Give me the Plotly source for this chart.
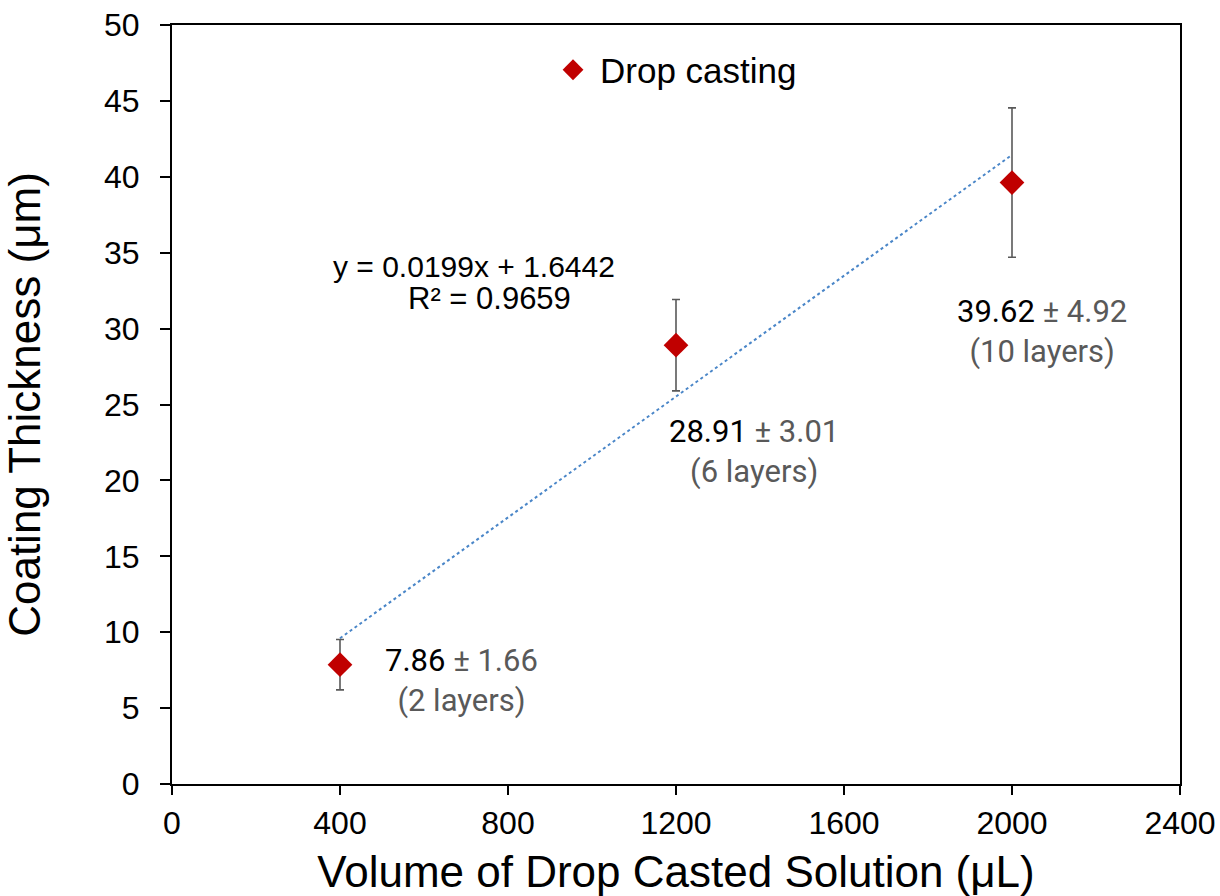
import plotly.graph_objects as go

# Data
volume_ul = [400, 1200, 2000]
thickness_um = [7.86, 28.91, 39.62]
thickness_err = [1.66, 3.01, 4.92]
layers = ["2 layers", "6 layers", "10 layers"]
series_name = "Drop casting"

# Linear trendline (Excel fit shown on chart)
slope = 0.0199
intercept = 1.6442
r_squared = 0.9659
trend_x = [volume_ul[0], volume_ul[-1]]
trend_y = [slope * v + intercept for v in trend_x]

x_ticks = [0, 400, 800, 1200, 1600, 2000, 2400]
y_ticks = [0, 5, 10, 15, 20, 25, 30, 35, 40, 45, 50]

ARIAL = "Arial, Liberation Sans, sans-serif"
ROBOTO = "Roboto, sans-serif"
GREY = "#595959"

fig = go.Figure()

fig.add_trace(go.Scatter(
    x=trend_x, y=trend_y, mode="lines",
    line=dict(color="#4A86C8", width=2, dash="dot"),
    showlegend=False, hoverinfo="skip",
))

fig.add_trace(go.Scatter(
    x=volume_ul, y=thickness_um, mode="markers", name="\u2009" + series_name,
    marker=dict(symbol="diamond", size=19, color="#C00000"),
    error_y=dict(type="data", array=thickness_err, visible=True,
                 color=GREY, thickness=1.6, width=4),
))

# Labels for each point
label_pos = [(690, 6.8), (1386, 21.9), (2071, 29.8)]
for (lx, ly), m, e, lay in zip(label_pos, thickness_um, thickness_err, layers):
    fig.add_annotation(
        x=lx, y=ly, xref="x", yref="y", showarrow=False,
        text=(f"<span style='color:#000000'>{m:.2f}</span> "
              f"<span style='color:{GREY}'>± {e:.2f}</span><br>"
              f"<span style='color:{GREY}'>({lay})</span>"),
        font=dict(family=ROBOTO, size=31, color=GREY),
        align="center",
    )

# Trendline equation
fig.add_annotation(x=720, y=34.1, xref="x", yref="y", showarrow=False,
                   text=f"y = {slope:.4f}x + {intercept:.4f}",
                   font=dict(family=ARIAL, size=30, color="#000000"))
fig.add_annotation(x=755, y=32.0, xref="x", yref="y", showarrow=False,
                   text=f"R² = {r_squared:.4f}",
                   font=dict(family=ARIAL, size=31, color="#000000"))

fig.update_layout(
    width=1220, height=896,
    margin=dict(l=172, r=40, t=25, b=112),
    paper_bgcolor="white", plot_bgcolor="white",
    font=dict(family=ARIAL, color="#000000"),
    legend=dict(x=0.378, y=0.9407, xanchor="left", yanchor="middle",
                font=dict(family=ARIAL, size=35, color="#000000"),
                bgcolor="rgba(0,0,0,0)", itemsizing="trace"),
    xaxis=dict(
        range=[0, 2400], tickvals=x_ticks, ticktext=[str(v) for v in x_ticks],
        showgrid=False, zeroline=False,
        showline=True, linecolor="#000000", linewidth=2, mirror=True,
        ticks="outside", ticklen=9, tickwidth=2, tickcolor="#000000",
        tickfont=dict(family=ARIAL, size=32, color="#000000"),
        ticklabelstandoff=1,
        title=dict(text="Volume of Drop Casted Solution (μL)",
                   font=dict(family=ARIAL, size=44, color="#000000"),
                   standoff=18),
        automargin=False,
    ),
    yaxis=dict(
        range=[0, 50], tickvals=y_ticks, ticktext=[str(v) for v in y_ticks],
        showgrid=False, zeroline=False,
        showline=True, linecolor="#000000", linewidth=2, mirror=True,
        ticks="outside", ticklen=10, tickwidth=2, tickcolor="#000000",
        tickfont=dict(family=ARIAL, size=32, color="#000000"),
        ticklabelstandoff=14,
        title=dict(text="Coating Thickness (μm)",
                   font=dict(family=ARIAL, size=44, color="#000000"),
                   standoff=50),
        automargin=False,
    ),
)

fig.write_html("out.html")
